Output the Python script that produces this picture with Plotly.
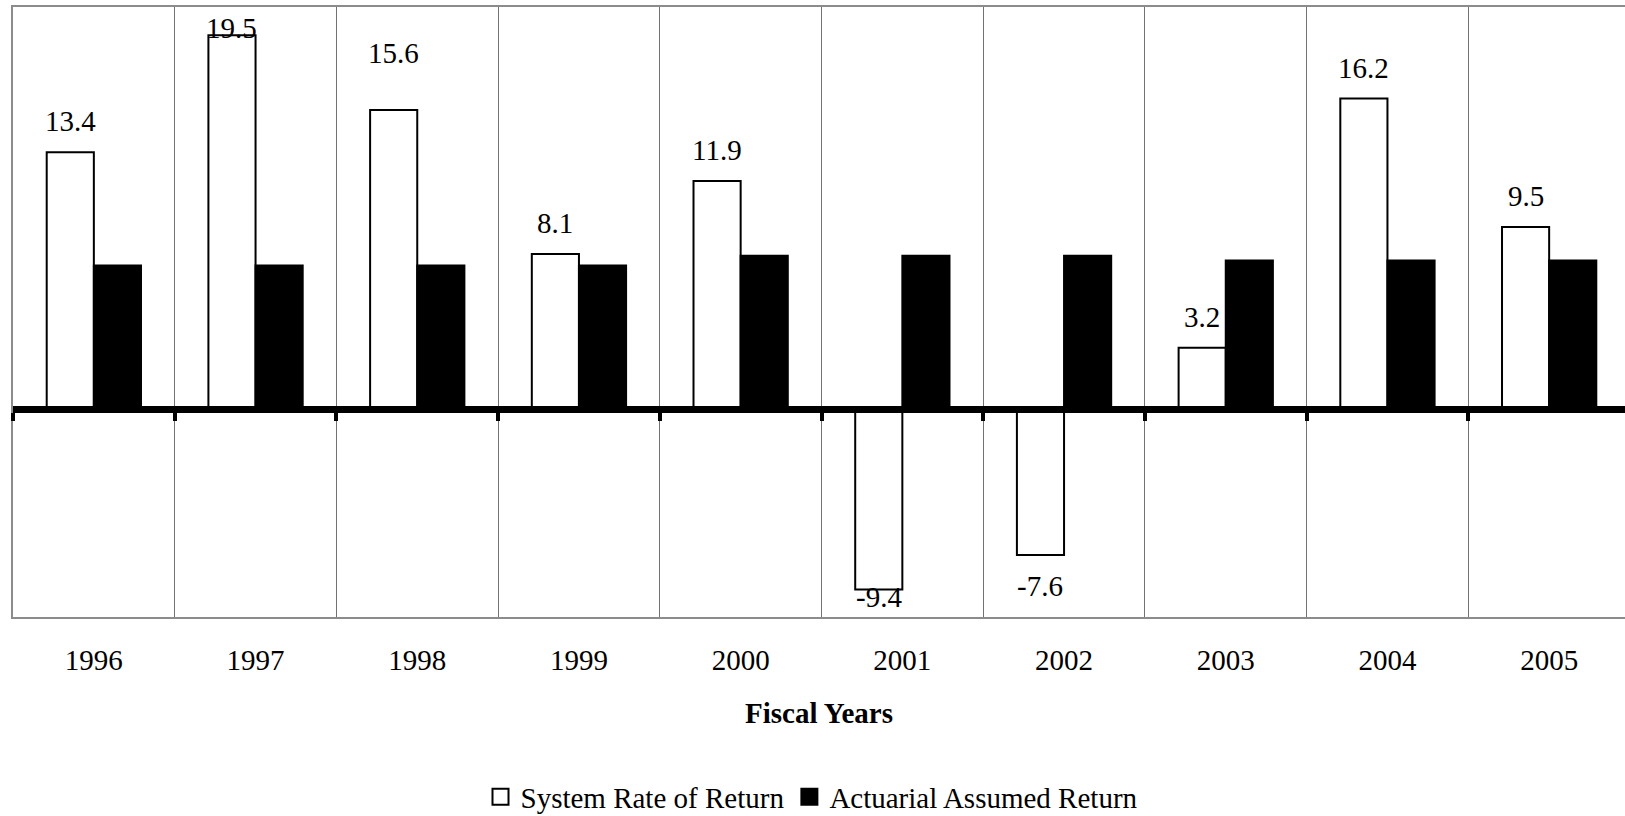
import plotly.graph_objects as go

# Fiscal-year returns (%)
years = ["1996", "1997", "1998", "1999", "2000", "2001", "2002", "2003", "2004", "2005"]
system_return = [13.4, 19.5, 15.6, 8.1, 11.9, -9.4, -7.6, 3.2, 16.2, 9.5]
assumed_return = [7.5, 7.5, 7.5, 7.5, 8.0, 8.0, 8.0, 7.75, 7.75, 7.75]

FONT = "Liberation Serif"
FS = 29
W, H = 1625, 816
M_L, M_R, M_T, M_B = 13, 0, 7, 199
Y_MIN, Y_MAX = -10.83, 20.97
CAT_PX = 161.7          # width of one category slot in pixels
BARGAP = 0.417

plot_w = W - M_L - M_R
plot_h = H - M_T - M_B
x_max = -0.5 + plot_w / CAT_PX
px_per_unit = plot_h / (Y_MAX - Y_MIN)
zero_frac = (0 - Y_MIN) / (Y_MAX - Y_MIN)
bar_px = CAT_PX * (1 - BARGAP) / 2

WHITE_BAR = dict(color="white", line=dict(color="black", width=2))
BLACK_BAR = dict(color="black", line=dict(color="black", width=2))

fig = go.Figure()
fig.add_trace(go.Bar(x=years, y=system_return, name="System Rate of Return",
                     marker=WHITE_BAR, showlegend=False))
fig.add_trace(go.Bar(x=years, y=assumed_return, name="Actuarial Assumed Return",
                     marker=BLACK_BAR, showlegend=False))

# legend keys with larger square swatches
for name, fill in [("System Rate of Return", "white"), ("Actuarial Assumed Return", "black")]:
    fig.add_trace(go.Scatter(
        x=[None], y=[None], mode="markers", name=name,
        marker=dict(symbol="square", size=16, color=fill,
                    line=dict(color="black", width=2)),
    ))

# carrier trace for the zero-line axis with boundary ticks
fig.add_trace(go.Scatter(
    x=years, y=system_return, xaxis="x2", mode="markers",
    marker=dict(opacity=0), showlegend=False, hoverinfo="skip",
))

# value labels above/below the system-return bars, kept inside the plot frame
label_gap = 31 / px_per_unit
edge_pad = 20.5 / px_per_unit
label_lift = {"1998": 26 / px_per_unit}   # label raised clear of its bar
annotations = []
for i, (yr, v) in enumerate(zip(years, system_return)):
    y_lab = v + label_gap if v >= 0 else v - label_gap
    y_lab += label_lift.get(yr, 0)
    y_lab = min(max(y_lab, Y_MIN + edge_pad), Y_MAX - edge_pad)
    annotations.append(dict(
        x=i, y=y_lab, xref="x", yref="y", text=f"{v:.1f}", showarrow=False,
        xshift=-bar_px / 2, yanchor="middle", xanchor="center",
        font=dict(family=FONT, size=FS, color="black"),
    ))

fig.update_layout(
    width=W, height=H,
    margin=dict(l=M_L, r=M_R, t=M_T, b=M_B, pad=0, autoexpand=False),
    paper_bgcolor="white", plot_bgcolor="white",
    barmode="group", bargap=BARGAP, bargroupgap=0,
    font=dict(family=FONT, size=FS, color="black"),
    annotations=annotations,
    showlegend=True,
    legend=dict(
        orientation="h", x=0.5 - 7 / plot_w, xanchor="center",
        yref="container", y=(H - 797) / H, yanchor="middle",
        font=dict(family=FONT, size=FS, color="black"),
        itemclick=False, itemdoubleclick=False, itemsizing="trace",
        tracegroupgap=0,
    ),
    xaxis=dict(
        type="category", range=[-0.5, x_max], automargin=False,
        tickson="boundaries", showgrid=True, gridcolor="#737373", gridwidth=1,
        showline=True, mirror=True, linecolor="#8c8c8c", linewidth=2,
        ticks="", ticklabelstandoff=16,
        tickfont=dict(family=FONT, size=FS, color="black"),
        title=dict(text="<b>Fiscal Years</b>", standoff=28,
                   font=dict(family=FONT, size=FS, color="black")),
        zeroline=False,
    ),
    xaxis2=dict(
        type="category", range=[-0.5, x_max], overlaying="x",
        anchor="free", position=zero_frac, side="bottom", automargin=False,
        showline=True, linecolor="black", linewidth=7,
        tickson="boundaries", ticks="outside", ticklen=8, tickwidth=4, tickcolor="black",
        showticklabels=False, showgrid=False, zeroline=False,
    ),
    yaxis=dict(
        range=[Y_MIN, Y_MAX], showgrid=False, zeroline=False, automargin=False,
        showticklabels=False, ticks="",
        showline=True, linecolor="#8c8c8c", linewidth=2, mirror=False,
    ),
)

fig.write_html("out.html")
